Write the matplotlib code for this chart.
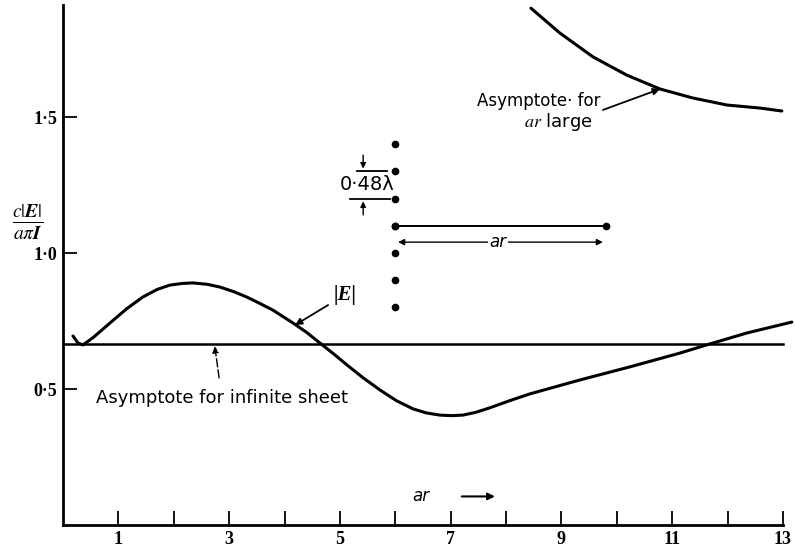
import numpy as np
import matplotlib
matplotlib.use('Agg')
from matplotlib.pyplot import figure

# |E| curve
e_x = [0.18, 0.27, 0.36, 0.55, 0.85, 1.15, 1.44, 1.70, 1.93, 2.15, 2.35, 2.60, 2.83, 3.08, 3.32,
       3.55, 3.79, 4.15, 4.40, 4.64, 4.90, 5.13, 5.42, 5.72, 6.02, 6.32, 6.56, 6.81, 7.02, 7.22,
       7.45, 7.71, 8.05, 8.43, 9.33, 10.23, 11.14, 11.62, 12.35, 13.16]
e_y = [0.695, 0.669, 0.662, 0.690, 0.743, 0.795, 0.838, 0.866, 0.882, 0.888, 0.890, 0.885, 0.875,
       0.858, 0.838, 0.815, 0.790, 0.743, 0.708, 0.669, 0.627, 0.588, 0.541, 0.497, 0.457,
       0.427, 0.412, 0.404, 0.402, 0.404, 0.414, 0.431, 0.456, 0.482, 0.533, 0.581, 0.632,
       0.662, 0.706, 0.746]

# asymptote for ar large
big_x = [8.45, 8.97, 9.57, 10.18, 10.78, 11.37, 11.99, 12.58, 12.98]
big_y = [1.90, 1.809, 1.721, 1.654, 1.603, 1.570, 1.544, 1.533, 1.522]

# asymptote for infinite sheet
sheet_level = 0.665
sheet_x = [0, 13]

# column of dipoles and the ar bar
dots_x = [6, 6, 6, 6, 6, 6, 6]
dots_y = [0.8, 0.9, 1.0, 1.1, 1.2, 1.3, 1.4]
bar_x = [6.0, 9.8]
bar_y = [1.1, 1.1]

x_ticks = [1, 2, 3, 4, 5, 6, 7, 8, 9, 10, 11, 12, 13]
x_labels = ['1', '', '3', '', '5', '', '7', '', '9', '', '11', '', '13']
y_ticks = [0.5, 1.0, 1.5]
y_labels = ['0·5', '1·0', '1·5']

matplotlib.rcParams['font.family'] = ['Liberation Serif', 'DejaVu Serif']
matplotlib.rcParams['mathtext.fontset'] = 'stix'

fig = figure(figsize=(7.95, 5.5), dpi=100)
ax = fig.add_axes([63 / 795, 25 / 550, 13.2 * 55.38 / 795, 1.92 * 272 / 550])
ax.set_xlim(0, 13.2)
ax.set_ylim(0, 1.92)

lw = 2.2
ax.plot(e_x, e_y, color='black', lw=lw, clip_on=False, solid_capstyle='round', solid_joinstyle='round')
ax.plot(big_x, big_y, color='black', lw=lw, solid_capstyle='round', solid_joinstyle='round')
ax.plot(sheet_x, [sheet_level, sheet_level], color='black', lw=1.8)

ax.plot(dots_x, dots_y, 'o', color='black', ms=4.5)
ax.plot(bar_x, bar_y, '-o', color='black', lw=1.4, ms=4.5)

# ar double arrow under the bar
ax.annotate('', xy=(6.0, 1.04), xytext=(9.8, 1.04),
            arrowprops=dict(arrowstyle='<|-|>', color='black', lw=1.0, mutation_scale=9))
ax.text(7.85, 1.04, 'ar', ha='center', va='center', fontsize=12, style='italic',
        family='DejaVu Sans', bbox=dict(facecolor='white', edgecolor='none', pad=1))

# 0.48 lambda spacing
ax.plot([5.31, 5.85], [1.3, 1.3], color='black', lw=1.3)
ax.plot([5.18, 5.90], [1.2, 1.2], color='black', lw=1.3)
ax.annotate('', xy=(5.42, 1.30), xytext=(5.42, 1.37),
            arrowprops=dict(arrowstyle='-|>', color='black', lw=1.0, mutation_scale=8))
ax.annotate('', xy=(5.42, 1.20), xytext=(5.42, 1.13),
            arrowprops=dict(arrowstyle='-|>', color='black', lw=1.0, mutation_scale=8))
ax.text(5.49, 1.25, '0·48λ', ha='center', va='center', fontsize=14, family='DejaVu Sans')

# labels with arrows
ax.annotate('|E|', xy=(4.19, 0.735), xytext=(4.88, 0.846), fontsize=15,
            ha='left', va='center', style='italic', fontweight='bold',
            arrowprops=dict(arrowstyle='-|>', color='black', lw=1.3, mutation_scale=10,
                            shrinkA=2, shrinkB=0))
ax.annotate('Asymptote for infinite sheet', xy=(2.74, 0.657), xytext=(2.87, 0.467),
            fontsize=13, ha='center', va='center', family='DejaVu Sans',
            arrowprops=dict(arrowstyle='-|>', color='black', lw=1.0, ls=(0, (6, 2)),
                            mutation_scale=9, shrinkA=6, shrinkB=0))
ax.annotate('', xy=(10.78, 1.603), xytext=(9.75, 1.526),
            arrowprops=dict(arrowstyle='-|>', color='black', lw=1.3, mutation_scale=10,
                            shrinkA=0, shrinkB=0))
ax.text(9.7, 1.56, 'Asymptote· for', ha='right', va='center', fontsize=12, family='DejaVu Sans')
ax.text(8.95, 1.48, '$ar$ large', ha='center', va='center', fontsize=13, family='DejaVu Sans')

# ar -> along the x axis
ax.text(6.46, 0.105, 'ar', ha='center', va='center', fontsize=12, style='italic', family='DejaVu Sans')
ax.annotate('', xy=(7.85, 0.105), xytext=(7.15, 0.105),
            arrowprops=dict(arrowstyle='-|>', color='black', lw=1.5, mutation_scale=10))

# y label as a fraction
fig.text(28 / 795, 1 - 222 / 550, r'$\frac{c|\boldsymbol{E}|}{a\pi \boldsymbol{I}}$', fontsize=20,
         ha='center', va='center')

for side in ['top', 'right']:
    ax.spines[side].set_visible(False)
ax.spines['left'].set_linewidth(2.0)
ax.spines['bottom'].set_linewidth(2.0)
ax.spines['bottom'].set_bounds(0, 13)
ax.spines['left'].set_bounds(0, 1.91)

ax.set_xticks(x_ticks)
ax.set_xticklabels(x_labels, fontsize=13, fontweight='bold')
ax.set_yticks(y_ticks)
ax.set_yticklabels(y_labels, fontsize=13, fontweight='bold')
ax.tick_params(direction='in', length=10, width=1.3, pad=4)

fig.savefig('out.png', dpi=100)
